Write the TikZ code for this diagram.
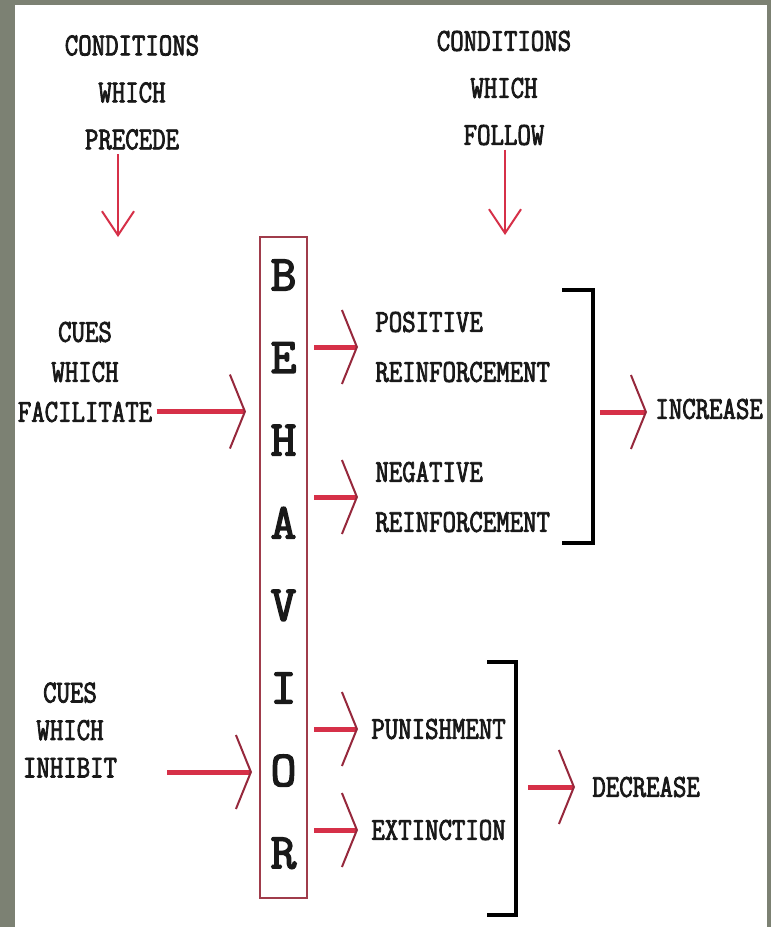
\documentclass[tikz,border=0pt]{standalone}
\usepackage{fontspec}
\usepackage{xcolor}
\usetikzlibrary{arrows.meta,positioning}

\newfontfamily\slabfont[FakeStretch=0.815, FakeBold=2.5]{Latin Modern Mono}
\newfontfamily\boxfont[FakeBold=3]{Latin Modern Mono}

\definecolor{bggrey}{RGB}{124,129,115}
\definecolor{shaftred}{RGB}{214,48,72}
\definecolor{armred}{RGB}{150,40,60}
\definecolor{boxred}{RGB}{160,60,75}
\definecolor{inkblack}{RGB}{25,25,25}

\begin{document}
\begin{tikzpicture}[x=0.5pt, y=-0.5pt,
  label/.style={inner sep=2pt, text=inkblack, font=\slabfont\fontsize{16}{20}\selectfont},
  behaviorbox/.style={rectangle, draw=boxred, line width=1pt, minimum width=23.5pt, minimum height=330.5pt},
  boxletter/.style={inner sep=0pt, text=inkblack, font=\boxfont\fontsize{25}{25}\selectfont},
  cuearrow/.style={draw=shaftred, line width=2.5pt, -{Straight Barb[length=7.5pt, width=37pt, line width=1pt, color=armred]}},
  downarrow/.style={draw=shaftred, line width=1pt, -{Straight Barb[length=12pt, width=16pt, line width=1pt]}},
  bracketline/.style={draw=black, line width=2pt}]

% Background
\fill[bggrey] (0,0) rectangle (771,927);
\fill[white] (15,5) rectangle (767,927);
\useasboundingbox (0,0) rectangle (771,927);

% Nodes
\node (precede) [label, align=center, font=\slabfont\fontsize{16}{23.5}\selectfont] at (132,92.5) {CONDITIONS\\WHICH\\PRECEDE};
\node (follow) [label, align=center, font=\slabfont\fontsize{16}{23.5}\selectfont] at (504,88) {CONDITIONS\\WHICH\\FOLLOW};
\node (facilitate) [label, align=center] at (85,372) {CUES\\WHICH\\FACILITATE};
\node (inhibit) [label, align=center, font=\slabfont\fontsize{16}{18.75}\selectfont] at (70,730) {CUES\\WHICH\\INHIBIT};

\node (behavior) [behaviorbox] at (283.5,567.5) {};
\foreach \ch [count=\i from 0] in {B,E,H,A,V,I,O,R}
  \node (letter\i) [boxletter] at (283.5,275+82.6*\i) {\ch};

\node (positive) [label, align=left, anchor=west, font=\slabfont\fontsize{16}{25}\selectfont] at (371,347) {POSITIVE\\REINFORCEMENT};
\node (negative) [label, align=left, anchor=west, font=\slabfont\fontsize{16}{25}\selectfont] at (371,497) {NEGATIVE\\REINFORCEMENT};
\node (punishment) [label, anchor=west] at (367,729) {PUNISHMENT};
\node (extinction) [label, anchor=west] at (367,830) {EXTINCTION};
\node (increase) [label, anchor=west] at (651,409) {INCREASE};
\node (decrease) [label, anchor=west] at (588,787) {DECREASE};

% Brackets
\draw[bracketline] (562,290) -- (593,290) -- (593,543) -- (562,543);
\draw[bracketline] (487,662) -- (516,662) -- (516,915) -- (487,915);

% Coordinates
\coordinate (precedetip) at (118,237);
\coordinate (followtip) at (505,235);
\coordinate (facilitateout) at ([yshift=7.5pt]facilitate.south east);
\coordinate (inhibitout) at (167,772);
\coordinate (upperjoin) at (593,412);
\coordinate (lowerjoin) at (516,787);

% Arrows
\draw[downarrow] (precede.south -| precedetip) -- (precedetip);
\draw[downarrow] (follow.south -| followtip) -- (followtip);
\draw[cuearrow, shorten >=6.5pt] (facilitateout) -- (facilitateout -| behavior.west);
\draw[cuearrow, shorten >=3.5pt] (inhibitout) -- (inhibitout -| behavior.west);
\draw[cuearrow, shorten <=3pt, shorten >=6.5pt] (behavior.east |- positive.west) -- (positive.west);
\draw[cuearrow, shorten <=3pt, shorten >=6.5pt] (behavior.east |- negative.west) -- (negative.west);
\draw[cuearrow, shorten <=3pt, shorten >=4.5pt] (behavior.east |- punishment.west) -- (punishment.west);
\draw[cuearrow, shorten <=3pt, shorten >=4.5pt] (behavior.east |- extinction.west) -- (extinction.west);
\draw[cuearrow, shorten <=3.5pt, shorten >=2pt] (upperjoin) -- (upperjoin -| increase.west);
\draw[cuearrow, shorten <=6pt, shorten >=6.5pt] (lowerjoin) -- (lowerjoin -| decrease.west);

\end{tikzpicture}
\end{document}
